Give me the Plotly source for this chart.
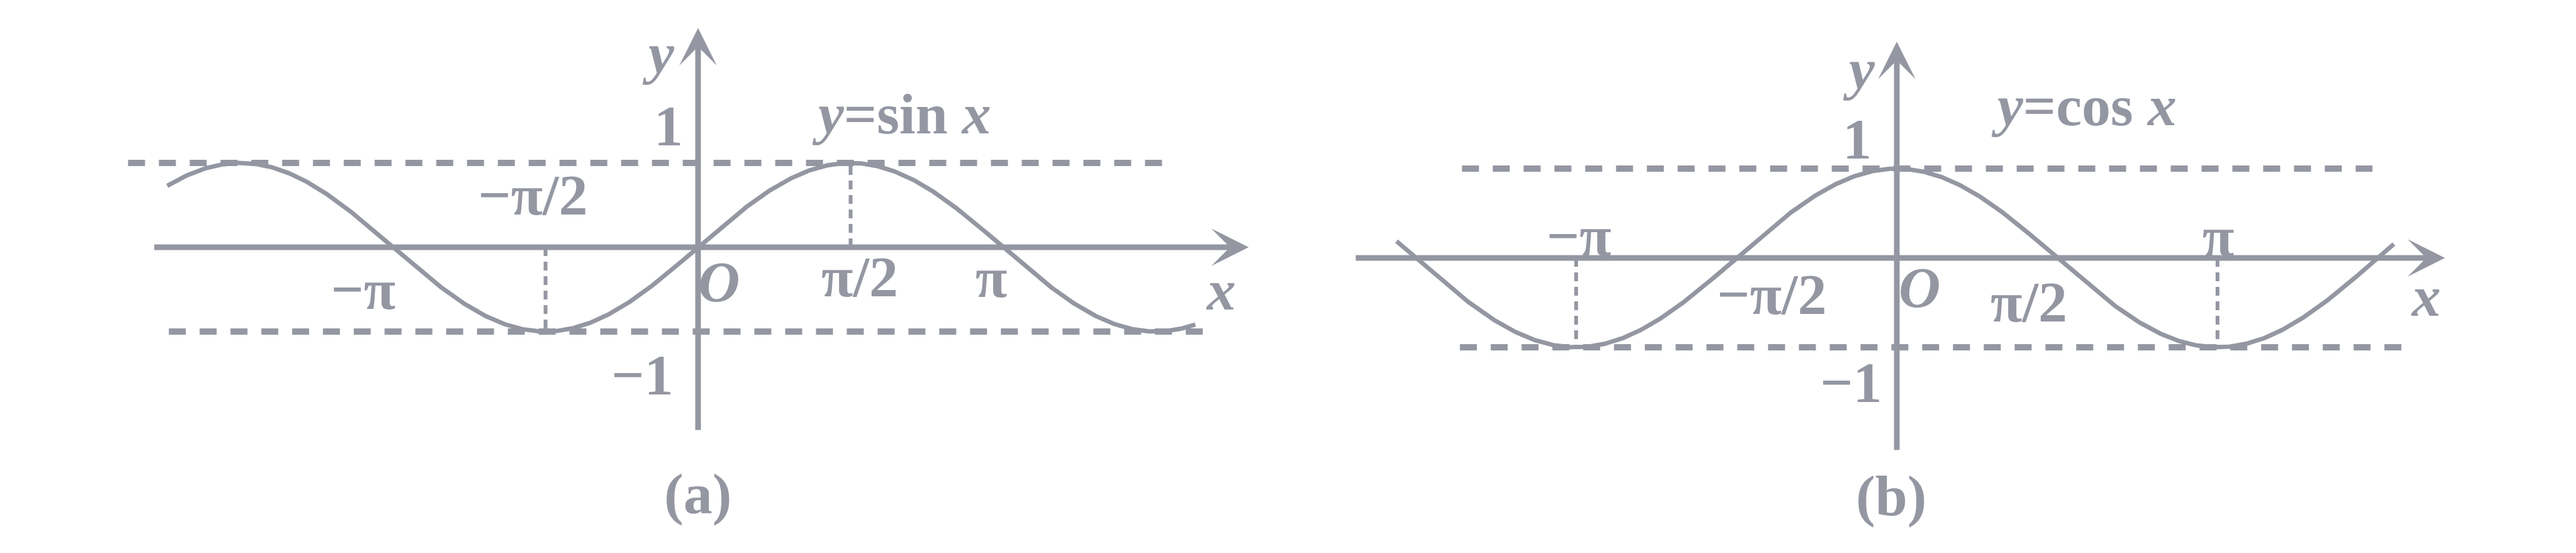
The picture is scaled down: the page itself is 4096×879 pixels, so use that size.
import numpy as np
import plotly.graph_objects as go

PI = np.pi

# colours / fonts
INK = "#9497a2"
FONT = "Liberation Serif"

# ---- panel (a): y = sin x -------------------------------------------------
SIN_X_START = -1.74 * PI          # where the drawn curve begins / ends
SIN_X_END = 1.63 * PI
SIN_XAXIS = [-5.61, 5.67]         # x-axis line, left end and arrow tip
SIN_YAXIS = [-2.18, 2.60]         # y-axis line, bottom and arrow tip
SIN_UPPER_DASH = [-5.87, 4.91]    # y = 1 guide
SIN_LOWER_DASH = [-5.45, 5.28]    # y = -1 guide
SIN_GUIDES_X = [PI / 2, -PI / 2]  # dotted drops to the extrema
SIN_GUIDES_Y = [1, -1]
SIN_TICK_VALS = [-PI, -PI / 2, PI / 2, PI]
SIN_TICK_TEXT = ["\u2212\u03c0", "\u2212\u03c0/2", "\u03c0/2", "\u03c0"]
SIN_TICK_SHIFT = [(-47, -67), (-20, 83), (14, -47), (-19, -48)]

# ---- panel (b): y = cos x -------------------------------------------------
COS_X_START = -1.56 * PI
COS_X_END = 1.55 * PI
COS_XAXIS = [-5.31, 5.37]
COS_YAXIS = [-2.16, 2.42]
COS_UPPER_DASH = [-4.26, 4.66]
COS_LOWER_DASH = [-4.28, 4.96]
COS_GUIDES_X = [-PI, PI]
COS_GUIDES_Y = [-1, -1]
COS_TICK_VALS = [-PI, -PI / 2, PI / 2, PI]
COS_TICK_TEXT = ["\u2212\u03c0", "\u2212\u03c0/2", "\u03c0/2", "\u03c0"]
COS_TICK_SHIFT = [(4, 35), (56, -58), (-45, -70), (1, 34)]


def add_panel(fig, n, func, x_start, x_end, xaxis, yaxis, upper, lower,
              guides_x, guides_y, tick_vals, tick_text, tick_shift,
              title, shifts):
    xr, yr = ("x", "y") if n == 1 else (f"x{n}", f"y{n}")
    common = dict(xaxis=xr, yaxis=yr, mode="lines", hoverinfo="skip",
                  showlegend=False)

    # dashed guides at y = 1 and y = -1
    for ends, level in ((upper, 1), (lower, -1)):
        fig.add_trace(go.Scatter(x=ends, y=[level, level],
                                 line=dict(color=INK, width=10, dash="27px,22px"),
                                 **common))
    # dotted drops
    for gx, gy in zip(guides_x, guides_y):
        fig.add_trace(go.Scatter(x=[gx, gx], y=[0, gy],
                                 line=dict(color=INK, width=6, dash="14px,9px"),
                                 **common))
    # the curve itself
    xs = np.linspace(x_start, x_end, 1200)
    fig.add_trace(go.Scatter(x=xs, y=func(xs),
                             line=dict(color=INK, width=7), **common))

    # axes drawn as arrows
    arrow = dict(text="", showarrow=True, arrowhead=3, arrowwidth=9,
                 arrowsize=1.1, arrowcolor=INK, xref=xr, yref=yr,
                 axref=xr, ayref=yr, standoff=0)
    fig.add_annotation(x=xaxis[1], y=0, ax=xaxis[0], ay=0, **arrow)
    fig.add_annotation(x=0, y=yaxis[1], ax=0, ay=yaxis[0], **arrow)

    label = dict(showarrow=False, xref=xr, yref=yr,
                 font=dict(family=FONT, size=92, color=INK))
    for v, t, (dx, dy) in zip(tick_vals, tick_text, tick_shift):
        fig.add_annotation(x=v, y=0, text=f"<b>{t}</b>", xshift=dx, yshift=dy,
                           **label)

    fig.add_annotation(x=0, y=1, text="<b>1</b>", xshift=shifts["one"][0],
                       yshift=shifts["one"][1], **label)
    fig.add_annotation(x=0, y=-1, text="<b>\u22121</b>", xshift=shifts["mone"][0],
                       yshift=shifts["mone"][1], **label)
    fig.add_annotation(x=0, y=0, text="<b><i>O</i></b>", xshift=shifts["o"][0],
                       yshift=shifts["o"][1], **label)
    fig.add_annotation(x=0, y=yaxis[1], text="<b><i>y</i></b>",
                       xshift=shifts["y"][0], yshift=shifts["y"][1], **label)
    fig.add_annotation(x=xaxis[1], y=0, text="<b><i>x</i></b>",
                       xshift=shifts["x"][0], yshift=shifts["x"][1], **label)
    fig.add_annotation(x=PI / 2, y=1, text=title, xshift=shifts["title"][0],
                       yshift=shifts["title"][1], **label)
    fig.add_annotation(x=0, y=yaxis[0], text=f"<b>({'a' if n == 1 else 'b'})</b>",
                       xshift=shifts["tag"][0], yshift=shifts["tag"][1], **label)


fig = go.Figure()

add_panel(fig, 1, np.sin, SIN_X_START, SIN_X_END, SIN_XAXIS, SIN_YAXIS,
          SIN_UPPER_DASH, SIN_LOWER_DASH, SIN_GUIDES_X, SIN_GUIDES_Y,
          SIN_TICK_VALS, SIN_TICK_TEXT, SIN_TICK_SHIFT,
          "<b><i>y</i>=sin <i>x</i></b>",
          dict(one=(-47, 59), mone=(-89, -69), o=(33, -55), y=(-63, -40),
               x=(-44, -68), title=(81, 78), tag=(0, -100)))

add_panel(fig, 2, np.cos, COS_X_START, COS_X_END, COS_XAXIS, COS_YAXIS,
          COS_UPPER_DASH, COS_LOWER_DASH, COS_GUIDES_X, COS_GUIDES_Y,
          COS_TICK_VALS, COS_TICK_TEXT, COS_TICK_SHIFT,
          "<b><i>y</i>=cos <i>x</i></b>",
          dict(one=(-63, 47), mone=(-73, -56), o=(36, -47), y=(-60, -44),
               x=(-31, -61), title=(42, 100), tag=(-9, -71)))

hidden = dict(visible=False, showgrid=False, zeroline=False)
fig.update_layout(
    width=4096,
    height=879,
    margin=dict(l=0, r=0, t=0, b=0),
    paper_bgcolor="white",
    plot_bgcolor="white",
    xaxis=dict(domain=[0, 0.5], range=[-7.137, 6.127], **hidden),
    yaxis=dict(domain=[0, 1], range=[-3.687, 2.873], **hidden),
    xaxis2=dict(domain=[0.5, 1], range=[-5.915, 6.703], **hidden),
    yaxis2=dict(domain=[0, 1], range=[-3.359, 2.831], anchor="x2", **hidden),
)

fig.write_html("out.html")
